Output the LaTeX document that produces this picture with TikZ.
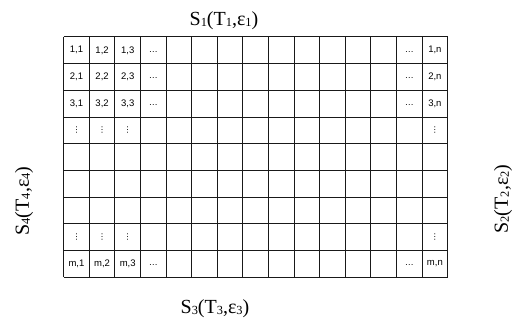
\documentclass[tikz,border=0pt]{standalone}
\usepackage{fontspec}
\setmainfont{Liberation Serif}
\newfontfamily\cellfont{Liberation Sans}
\newfontfamily\symfont{DejaVu Sans}
\newcommand\lowsub[1]{\raisebox{-0.12ex}{\scalebox{0.62}{#1}}}
\newcommand\sidelab[1]{S\lowsub{#1}(T\lowsub{#1},ε\lowsub{#1})}
\begin{document}
\begin{tikzpicture}[x=1pt,y=-1pt,
  gridline/.style={line width=1pt,draw=black!90},
  celltext/.style={font=\cellfont\fontsize{9.5}{10}\selectfont,inner sep=0pt},
  dotstext/.style={font=\cellfont\fontsize{9}{10}\selectfont,inner sep=0pt},
  vdotstext/.style={font=\symfont\fontsize{8}{9}\selectfont,inner sep=0pt},
  sidelabel/.style={font=\fontsize{20}{23}\selectfont,inner sep=0pt}]
\useasboundingbox (0,0) rectangle (516,320);
\def\xa{63.7}\def\cw{25.6}\def\ya{37}\def\rh{26.67}
% grid
\foreach \i in {0,...,15}
  \draw[gridline] ({\xa+\i*\cw},\ya) -- ({\xa+\i*\cw},{\ya+9*\rh});
\foreach \j in {0,...,9}
  \draw[gridline] (\xa,{\ya+\j*\rh}) -- ({\xa+15*\cw},{\ya+\j*\rh});
% cell texts
\foreach \c/\r/\t in {1/1/{1,1},2/1/{1,2},3/1/{1,3},15/1/{1,n},
  1/2/{2,1},2/2/{2,2},3/2/{2,3},15/2/{2,n},
  1/3/{3,1},2/3/{3,2},3/3/{3,3},15/3/{3,n},
  1/9/{m,1},2/9/{m,2},3/9/{m,3},15/9/{m,n}}
  \node[celltext] (cell-\c-\r) at ({\xa+(\c-0.5)*\cw},{\ya+(\r-0.5)*\rh}) {\t};
\foreach \c/\r in {4/1,4/2,4/3,4/9,14/1,14/2,14/3,14/9}
  \node[dotstext] (dots-\c-\r) at ({\xa+(\c-0.5)*\cw},{\ya+(\r-0.5)*\rh+1.5}) {…};
\foreach \c/\r in {1/4,2/4,3/4,15/4,1/8,2/8,3/8,15/8}
  \node[vdotstext] (vdots-\c-\r) at ({\xa+(\c-0.5)*\cw},{\ya+(\r-0.5)*\rh}) {⋮};
% side labels
\node[sidelabel] (s1) at (224,21) {\sidelab{1}};
\node[sidelabel] (s3) at (215,309) {\sidelab{3}};
\node[sidelabel,rotate=90] (s4) at (24,201) {\sidelab{4}};
\node[sidelabel,rotate=90] (s2) at (503,199) {\sidelab{2}};
\end{tikzpicture}
\end{document}
